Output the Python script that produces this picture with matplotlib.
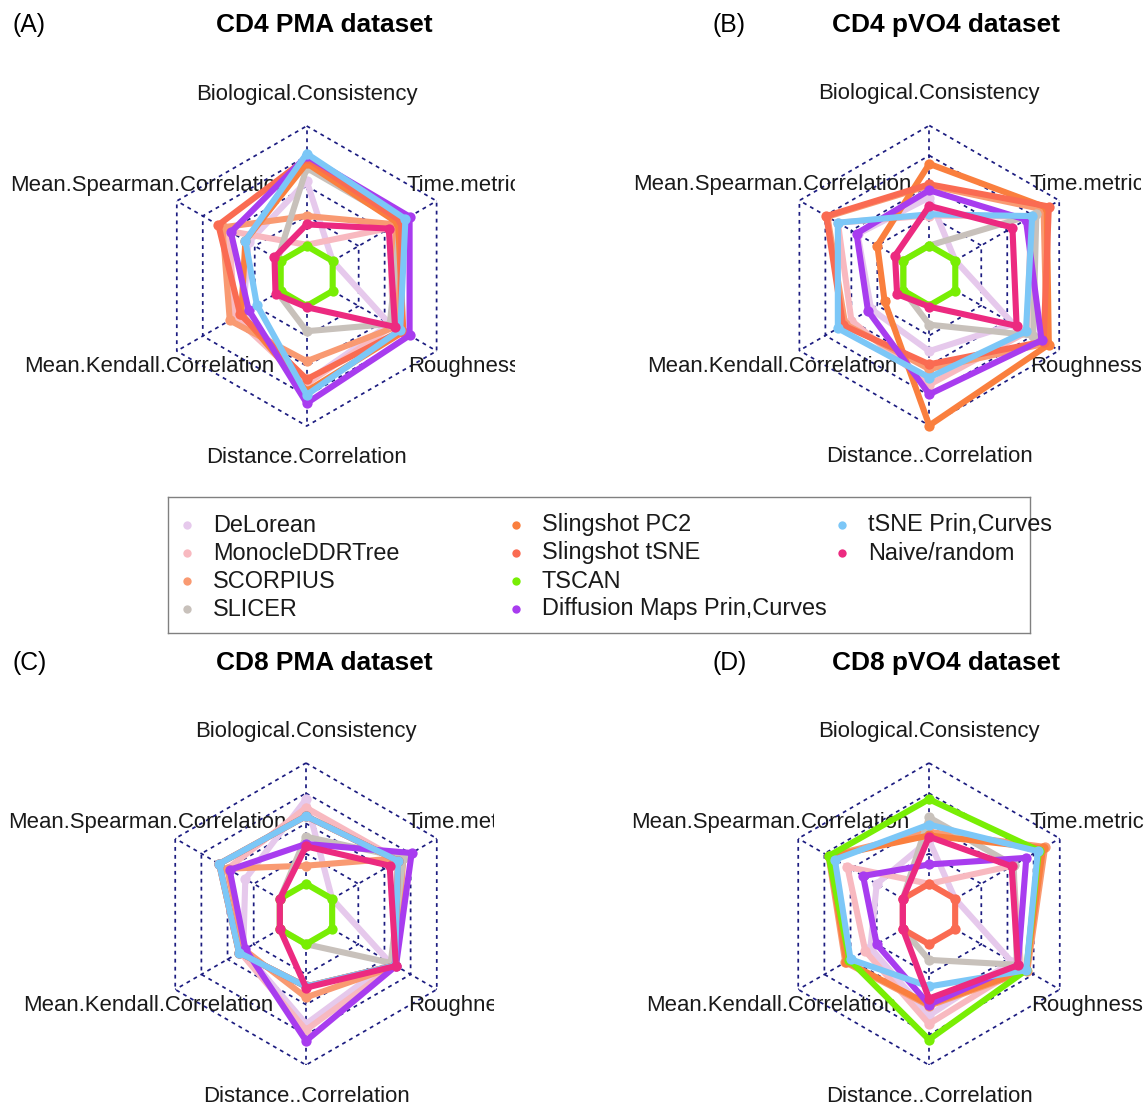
import numpy as np
import matplotlib
matplotlib.use("Agg")
import matplotlib.pyplot as plt

plt.rcParams["font.family"] = ["Liberation Sans", "DejaVu Sans"]

W, H = 1147, 1108

methods = ["DeLorean", "MonocleDDRTree", "SCORPIUS", "SLICER", "Slingshot PC2",
           "Slingshot tSNE", "TSCAN", "Diffusion Maps Prin,Curves", "tSNE Prin,Curves",
           "Naive/random"]
colors = ["#e6c9ec", "#f8b9c0", "#f99a72", "#c8c1bb", "#fa7f3e",
          "#fa6b52", "#78ee04", "#a83cef", "#7cc7f7", "#ec2a80"]

# metrics clockwise from the top axis
metrics_a = ["Biological.Consistency", "Time.metric", "Roughness",
             "Distance.Correlation", "Mean.Kendall.Correlation", "Mean.Spearman.Correlation"]
metrics_b = ["Biological.Consistency", "Time.metric", "Roughness",
             "Distance..Correlation", "Mean.Kendall.Correlation", "Mean.Spearman.Correlation"]

# scaled scores (0 = worst, 1 = best), one row per method
cd4_pma = [
    [0.54, 0.00, 0.55, 0.63, 0.36, 0.31],
    [0.01, 0.55, 0.58, 0.65, 0.44, 0.50],
    [0.25, 0.61, 0.60, 0.46, 0.49, 0.56],
    [0.65, 0.65, 0.55, 0.21, 0.03, 0.03],
    [0.69, 0.63, 0.68, 0.71, 0.38, 0.34],
    [0.73, 0.66, 0.66, 0.61, 0.39, 0.60],
    [0.00, 0.00, 0.00, 0.00, 0.00, 0.00],
    [0.75, 0.74, 0.74, 0.81, 0.31, 0.48],
    [0.77, 0.70, 0.65, 0.74, 0.23, 0.34],
    [0.18, 0.54, 0.60, 0.01, 0.05, 0.06],
]
cd4_pvo4 = [
    [0.40, 0.00, 0.56, 0.38, 0.31, 0.44],
    [0.25, 0.73, 0.69, 0.66, 0.50, 0.63],
    [0.50, 0.85, 0.88, 0.53, 0.56, 0.73],
    [0.00, 0.78, 0.75, 0.16, 0.00, 0.00],
    [0.68, 0.88, 0.90, 1.00, 0.18, 0.25],
    [0.51, 0.90, 0.85, 0.49, 0.58, 0.74],
    [0.00, 0.00, 0.00, 0.00, 0.00, 0.00],
    [0.46, 0.68, 0.83, 0.74, 0.34, 0.45],
    [0.26, 0.74, 0.68, 0.60, 0.63, 0.63],
    [0.33, 0.55, 0.59, 0.01, 0.06, 0.08],
]
cd8_pma = [
    [0.70, 0.00, 0.55, 0.66, 0.35, 0.33],
    [0.63, 0.64, 0.60, 0.71, 0.38, 0.50],
    [0.15, 0.68, 0.61, 0.44, 0.34, 0.50],
    [0.39, 0.68, 0.56, 0.00, 0.00, 0.00],
    [0.56, 0.63, 0.60, 0.35, 0.39, 0.58],
    [0.56, 0.63, 0.60, 0.35, 0.39, 0.58],
    [0.00, 0.00, 0.00, 0.00, 0.00, 0.00],
    [0.33, 0.76, 0.61, 0.80, 0.33, 0.48],
    [0.56, 0.63, 0.60, 0.35, 0.39, 0.58],
    [0.31, 0.55, 0.61, 0.36, 0.00, 0.00],
]
cd8_pvo4 = [
    [0.36, 0.00, 0.54, 0.59, 0.31, 0.25],
    [0.00, 0.55, 0.63, 0.66, 0.36, 0.53],
    [0.43, 0.86, 0.69, 0.51, 0.55, 0.71],
    [0.55, 0.56, 0.59, 0.13, 0.00, 0.00],
    [0.40, 0.84, 0.68, 0.50, 0.54, 0.70],
    [0.00, 0.00, 0.00, 0.00, 0.00, 0.00],
    [0.70, 0.80, 0.68, 0.79, 0.51, 0.71],
    [0.16, 0.68, 0.60, 0.50, 0.25, 0.38],
    [0.49, 0.79, 0.68, 0.35, 0.50, 0.65],
    [0.39, 0.54, 0.60, 0.45, 0.00, 0.00],
]

angles = np.deg2rad([90, 30, -30, -90, -150, 150])
levels = [0.2, 0.4, 0.6, 0.8, 1.0]
grid_color = "#1c1c80"

fig = plt.figure(figsize=(W / 100, H / 100), dpi=100)


def radar(box, center, R, tag, tag_x, title, title_x, title_y, labels, scores):
    x0, y0, x1, y1 = box
    cx, cy = center
    ax = fig.add_axes([x0 / W, 1 - y1 / H, (x1 - x0) / W, (y1 - y0) / H])
    ax.set_xlim((x0 - cx) / R, (x1 - cx) / R)
    ax.set_ylim((cy - y1) / R, (cy - y0) / R)
    ax.axis("off")

    xs, ys = np.cos(angles), np.sin(angles)
    for lv in levels:
        ax.plot(np.append(xs, xs[0]) * lv, np.append(ys, ys[0]) * lv,
                color=grid_color, lw=1.25, ls=(0, (2.2, 2.4)), zorder=1)
    for x, y in zip(xs, ys):
        ax.plot([0.2 * x, x], [0.2 * y, y], color=grid_color, lw=1.25,
                ls=(0, (2.2, 2.4)), zorder=1)

    for lab, x, y in zip(labels, xs, ys):
        ax.text(1.21 * x, 1.21 * y, lab, ha="center", va="center",
                fontsize=15.9, color="#1a1a1a", clip_on=True, zorder=2)

    # fmsb-style scaling: score 0 sits on the innermost ring
    for i, (vals, col) in enumerate(zip(scores, colors)):
        r = 0.2 + 0.8 * np.asarray(vals)
        px, py = r * xs, r * ys
        ax.plot(np.append(px, px[0]), np.append(py, py[0]), color=col, lw=4.4,
                solid_joinstyle="miter", zorder=3 + i)
        ax.plot(px, py, "o", color=col, ms=7.4, mew=0, zorder=3 + i)

    fig.text(tag_x / W, 1 - title_y / H, tag, ha="left", va="center", fontsize=17.8)
    fig.text(title_x / W, 1 - title_y / H, title, ha="center", va="center",
             fontsize=18.9, fontweight="bold")


radar((0, 45, 515, 488), (306.7, 276), 150, "(A)", 12, "CD4 PMA dataset", 324, 25,
      metrics_a, cd4_pma)
radar((575, 45, 1141, 488), (929.3, 275.5), 150, "(B)", 712, "CD4 pVO4 dataset", 946, 25,
      metrics_b, cd4_pvo4)
radar((0, 685, 494, 1108), (306, 914), 151, "(C)", 12, "CD8 PMA dataset", 324, 663,
      metrics_b, cd8_pma)
radar((575, 685, 1147, 1108), (929, 914), 151, "(D)", 712, "CD8 pVO4 dataset", 946, 663,
      metrics_b, cd8_pvo4)

# legend box drawn by hand: 3 columns x 4 rows
lx0, ly0, lx1, ly1 = 168, 497, 1030, 633
lax = fig.add_axes([lx0 / W, 1 - ly1 / H, (lx1 - lx0) / W, (ly1 - ly0) / H])
lax.set_xlim(0, lx1 - lx0)
lax.set_ylim(ly1 - ly0, 0)
lax.set_xticks([])
lax.set_yticks([])
for sp in lax.spines.values():
    sp.set_color("#808080")
    sp.set_linewidth(1.0)
col_x = [19, 348, 674]
for i, (name, col) in enumerate(zip(methods, colors)):
    c, row = divmod(i, 4)
    y = 28 + 28 * row
    lax.plot(col_x[c], y, "o", color=col, ms=6, mew=0)
    lax.text(col_x[c] + 26, y, name, ha="left", va="center", fontsize=16.9,
             color="#1a1a1a")

fig.savefig("out.png", dpi=100)
